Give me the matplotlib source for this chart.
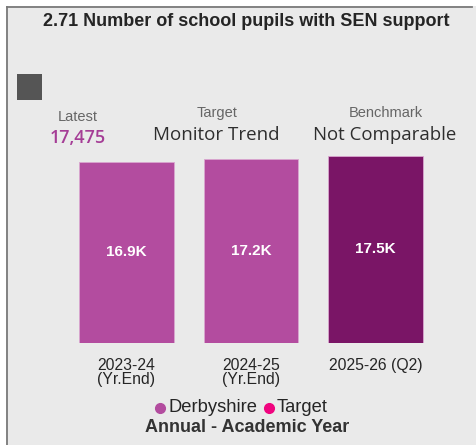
import matplotlib
matplotlib.use("Agg")
import matplotlib.pyplot as plt
from matplotlib.patches import Rectangle
from matplotlib.lines import Line2D

# Data
periods = ["2023-24\n(Yr.End)", "2024-25\n(Yr.End)", "2025-26 (Q2)"]
pupils = [16890, 17190, 17475]
bar_labels = ["16.9K", "17.2K", "17.5K"]
bar_colors = ["#B34C9F", "#B34C9F", "#7A1566"]
latest_value = "17,475"
target_text = "Monitor Trend"
benchmark_text = "Not Comparable"

plt.rcParams["font.family"] = ["Liberation Sans", "DejaVu Sans"]

W, H = 476, 445
fig = plt.figure(figsize=(W / 100, H / 100), dpi=100)
fig.patch.set_facecolor("white")

def fx(px):
    return px / W

def fy(py):
    return 1 - py / H

# Panel background and left/top frame
fig.add_artist(Rectangle((fx(6), 0), 1 - fx(6), fy(6), transform=fig.transFigure,
                         facecolor="#EAEAEA", edgecolor="none", zorder=0))
fig.add_artist(Line2D([fx(6.5), fx(6.5)], [0, fy(6.5)], transform=fig.transFigure,
                      color="#7A7A7A", lw=1.3))
fig.add_artist(Line2D([fx(6.5), fx(472)], [fy(6.5), fy(6.5)], transform=fig.transFigure,
                      color="#7A7A7A", lw=1.3))

# Title
fig.text(fx(246), fy(21), "2.71 Number of school pupils with SEN support",
         ha="center", va="center", fontsize=13, fontweight="bold", color="#252525")

# Grey marker square
fig.add_artist(Rectangle((fx(17), fy(100)), fx(42) - fx(17), fy(74) - fy(100),
                         transform=fig.transFigure, facecolor="#555555", edgecolor="none"))

# Headline cards
fig.text(fx(78), fy(117), "Latest", ha="center", va="center", fontsize=10.5, color="#666666")
fig.text(fx(78), fy(138), latest_value, ha="center", va="center", fontsize=13, color="#A53D96",
         family=["Open Sans", "DejaVu Sans"], fontweight="semibold")
fig.text(fx(217), fy(113), "Target", ha="center", va="center", fontsize=10.5, color="#666666")
fig.text(fx(216), fy(135), target_text, ha="center", va="center", fontsize=13.5, color="#2E2E2E",
         family=["Open Sans", "DejaVu Sans"])
fig.text(fx(386), fy(113), "Benchmark", ha="center", va="center", fontsize=10.5, color="#666666")
fig.text(fx(385), fy(135), benchmark_text, ha="center", va="center", fontsize=13.4, color="#2E2E2E",
         family=["Open Sans", "DejaVu Sans"])

# Bar chart
ax_left, ax_right = 64.3, 437.5
ax_top, ax_bottom = 155.6, 343
ax = fig.add_axes([fx(ax_left), fy(ax_bottom), fx(ax_right) - fx(ax_left), fy(ax_top) - fy(ax_bottom)])
ax.set_facecolor("none")
x = range(len(periods))
bars = ax.bar(x, pupils, width=0.76, color=bar_colors, edgecolor="#D9A6CF", linewidth=0.6)
for xi, v, lab in zip(x, pupils, bar_labels):
    ax.text(xi, v / 2, lab, ha="center", va="center", color="white", fontsize=11, fontweight="bold")
ax.set_xlim(-0.5, len(periods) - 0.5)
ax.set_ylim(0, max(pupils))
ax.set_yticks([])
ax.set_xticks(list(x))
ax.set_xticklabels(periods, fontsize=11.3, color="#252525", linespacing=0.9, va="top")
ax.tick_params(axis="x", length=0, pad=11)
for s in ax.spines.values():
    s.set_visible(False)

# Legend
fig.add_artist(Line2D([fx(160)], [fy(408)], transform=fig.transFigure, marker="o",
                      markersize=7, color="#B34C9F", linestyle="none"))
fig.text(fx(168), fy(408), "Derbyshire", ha="left", va="center", fontsize=13.2, color="#252525")
fig.add_artist(Line2D([fx(269)], [fy(408)], transform=fig.transFigure, marker="o",
                      markersize=7, color="#F0047F", linestyle="none"))
fig.text(fx(277), fy(408), "Target", ha="left", va="center", fontsize=13.2, color="#252525")
fig.text(fx(247), fy(428), "Annual - Academic Year", ha="center", va="center",
         fontsize=13, color="#333333", fontweight="bold")

fig.savefig("out.png", dpi=100, facecolor=fig.get_facecolor())
